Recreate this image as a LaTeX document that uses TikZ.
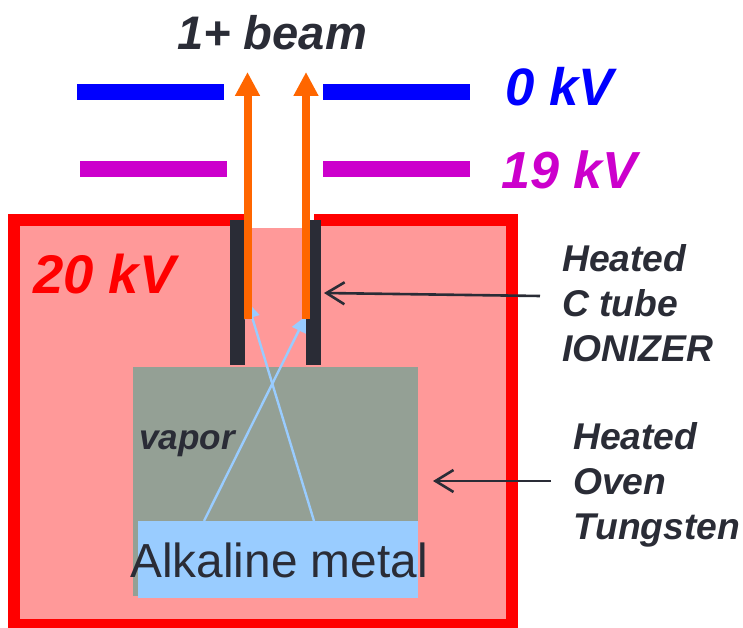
\documentclass[tikz,border=0pt]{standalone}
\usepackage{fontspec}
\setmainfont{Liberation Sans}
\usetikzlibrary{arrows.meta}
\definecolor{hvred}{HTML}{FF0000}
\definecolor{hvpink}{HTML}{FF9999}
\definecolor{hvblue}{HTML}{0000FF}
\definecolor{hvpurple}{HTML}{CC00CC}
\definecolor{hvorange}{HTML}{FF6600}
\definecolor{hvdark}{HTML}{2A2C36}
\definecolor{hvgray}{HTML}{94A095}
\definecolor{hvsky}{HTML}{99CCFF}
\def\pxu{0.03cm}
\begin{document}
\begin{tikzpicture}[
  x=\pxu, y=-\pxu,
  block/.style={rectangle, fill=#1, inner sep=0pt, outer sep=0pt},
  plate/.style={block=#1, minimum width=147*\pxu, minimum height=16*\pxu},
  tube/.style={block=hvdark, minimum width=15*\pxu, minimum height=145*\pxu},
  label/.style={font=\fontsize{#1}{#1}\selectfont\bfseries\itshape, inner sep=0pt, anchor=base west},
  side/.style={font=\fontsize{31.8pt}{38.4pt}\selectfont\bfseries\itshape, text=hvdark, inner sep=0pt, align=left, anchor=north west},
  beam/.style={-{Triangle[length=24*\pxu, width=23.5*\pxu]}, line width=8*\pxu, hvorange},
  vaporray/.style={-{Triangle[length=16*\pxu, width=15*\pxu]}, line width=2.4*\pxu, hvsky},
  pointer/.style={-{Straight Barb[length=18*\pxu, width=22*\pxu]}, line width=2.6*\pxu, hvdark},
]
  \useasboundingbox (0,0) rectangle (743,628);

  % high voltage box
  \node[block=hvpink, draw=hvred, line width=12*\pxu, minimum width=498*\pxu, minimum height=405*\pxu] (box) at (263,422.5) {};
  \node[block=white, minimum width=62*\pxu, minimum height=16*\pxu] (gap) at (283,220) {};

  % extraction plates
  \node[plate=hvblue] (plateAL) at (150.5,92) {};
  \node[plate=hvblue] (plateAR) at (396.5,92) {};
  \node[plate=hvpurple] (plateBL) at (153,169) {};
  \node[plate=hvpurple] (plateBR) at (396.5,169) {};

  % ionizer and oven
  \node[tube] (tubeL) at (237.5,292.5) {};
  \node[tube] (tubeR) at (313.5,292.5) {};
  \node[block=hvgray, minimum width=285*\pxu, minimum height=229*\pxu] (oven) at (275.5,481.5) {};
  \node[block=hvsky, minimum width=280*\pxu, minimum height=77*\pxu] (metal) at (278,559.5) {};

  \coordinate (rayLs) at (204,521);
  \coordinate (rayLe) at (306,316);
  \coordinate (rayRs) at (314,521);
  \coordinate (rayRe) at (247.5,302);
  \draw[vaporray] (rayLs) -- (rayLe);
  \draw[vaporray] (rayRs) -- (rayRe);

  \coordinate (beamLs) at (247.5,319);
  \coordinate (beamLe) at (247.5,72);
  \coordinate (beamRs) at (306,319);
  \coordinate (beamRe) at (306,72);
  \draw[beam] (beamLs) -- (beamLe);
  \draw[beam] (beamRs) -- (beamRe);

  % labels
  \node[label=40.2pt, text=hvdark] (title) at (177,50) {1+ beam};
  \node[label=45pt, text=hvblue] (kvzero) at (505.5,106) {0 kV};
  \node[label=44.5pt, text=hvpurple] (kvnineteen) at (501,189) {19 kV};
  \node[label=46.5pt, text=hvred] (kvtwenty) at (33,294) {20 kV};
  \node[label=30pt, text=hvdark] (vapor) at (139,450) {vapor};
  \node[font=\fontsize{40.8pt}{40.8pt}\selectfont, text=hvdark, inner sep=0pt, anchor=base west] (alkali) at (130,578) {Alkaline metal};

  \node[side] (ionizer) at (562,244.5) {Heated\\C tube\\IONIZER};
  \node[side] (heater) at (573,422) {Heated\\Oven\\Tungsten};

  \coordinate (ionizerIn) at (540,296);
  \coordinate (ionizerTip) at (324,293);
  \coordinate (heaterIn) at (551,481);
  \coordinate (heaterTip) at (433,481);
  \draw[pointer] (ionizerIn) -- (ionizerTip);
  \draw[pointer] (heaterIn) -- (heaterTip);
\end{tikzpicture}
\end{document}
